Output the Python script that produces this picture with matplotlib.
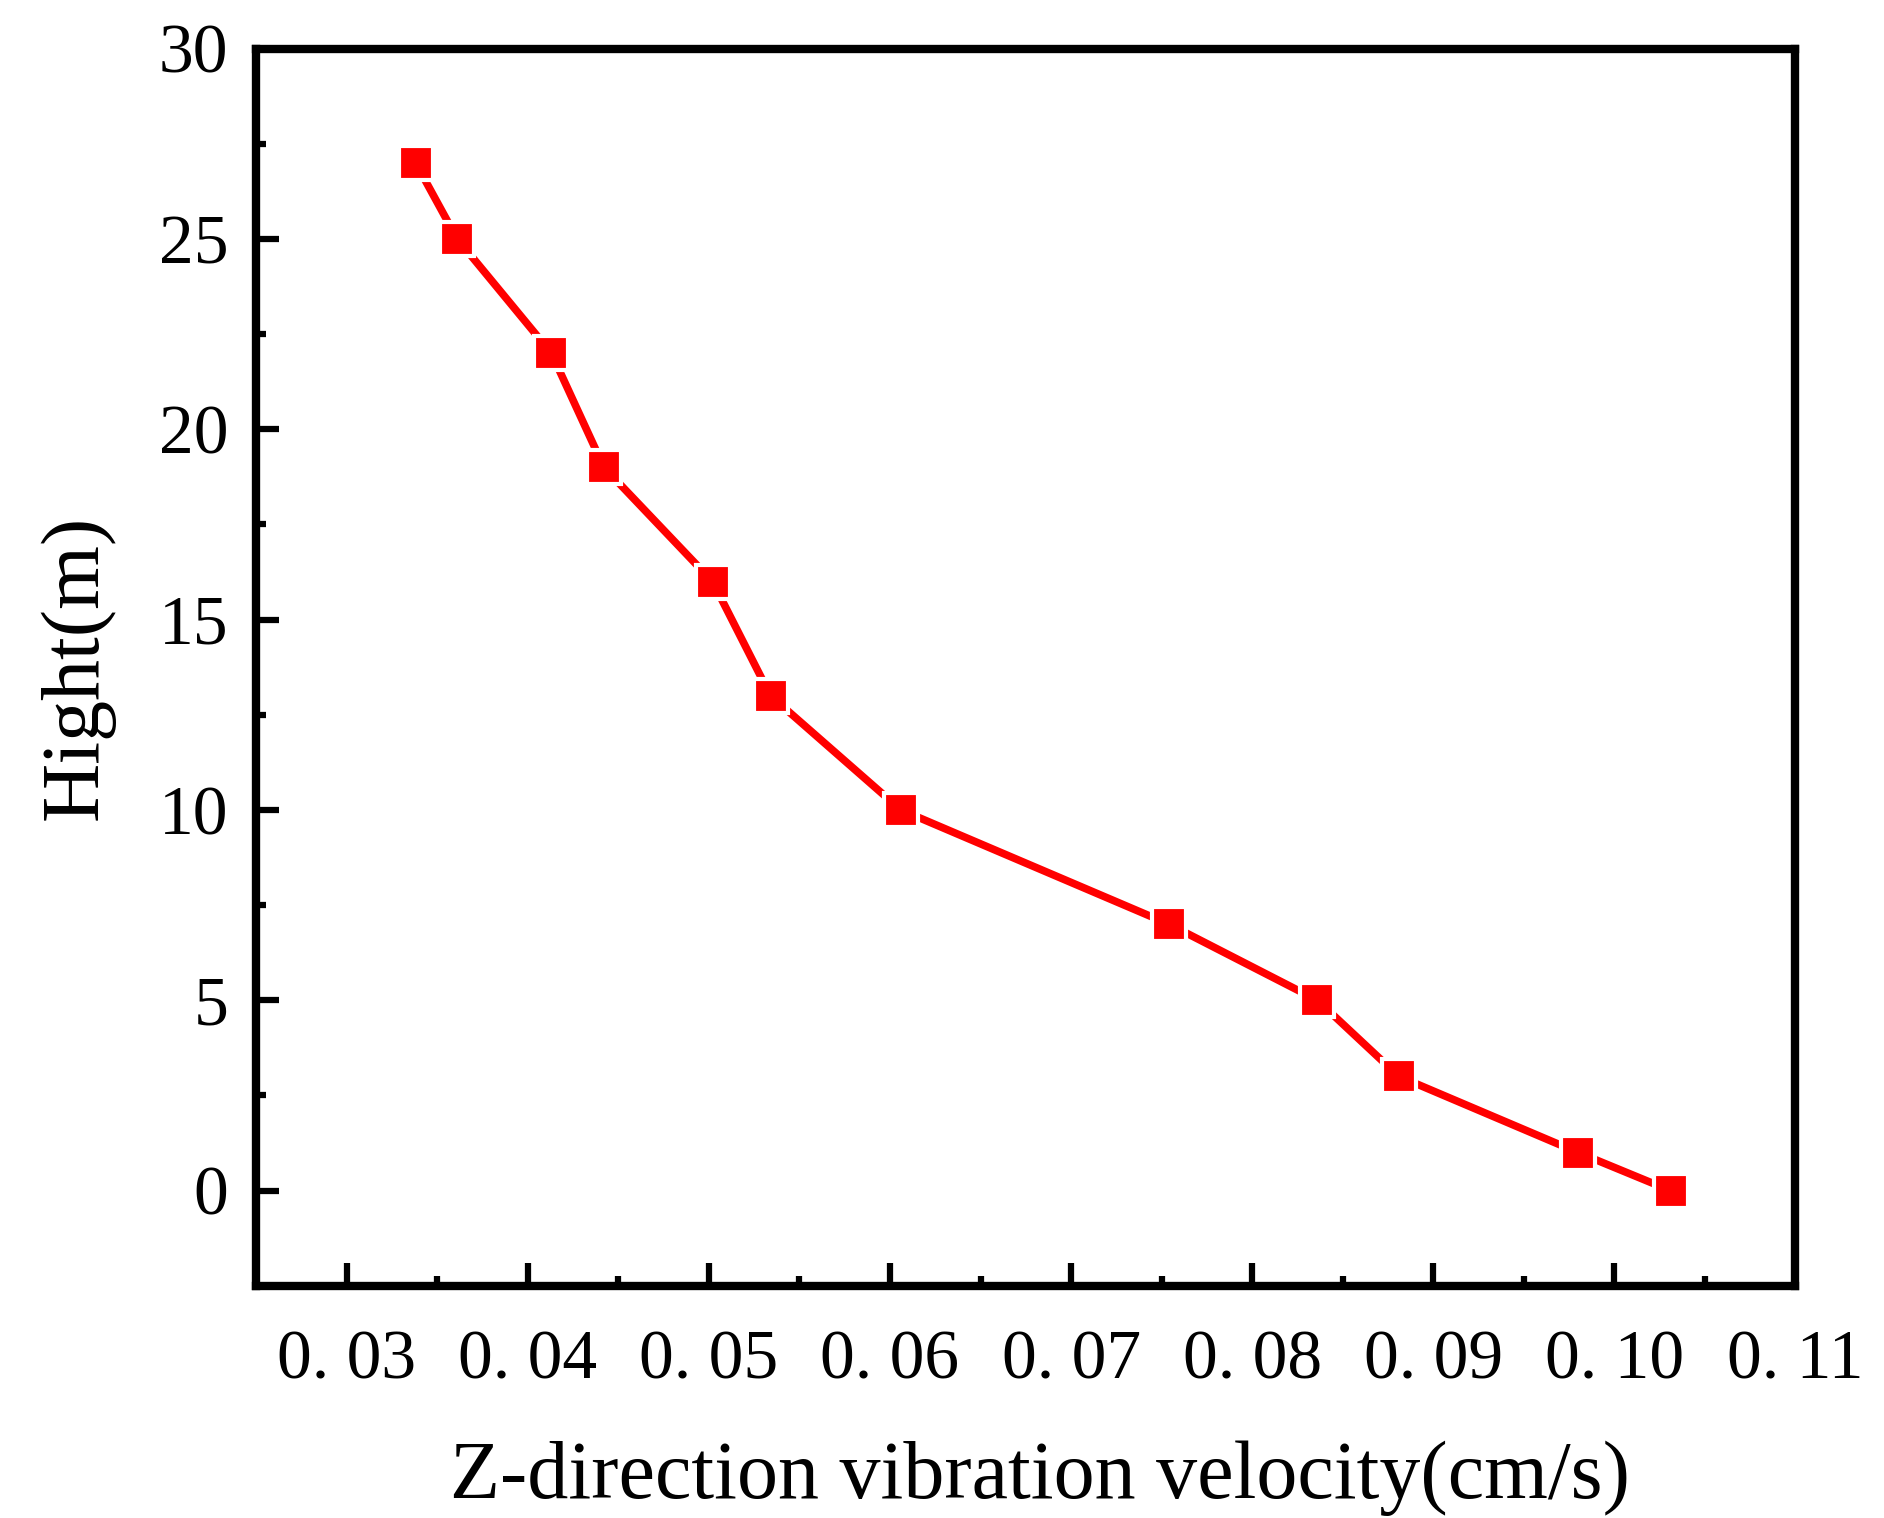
import matplotlib
matplotlib.use("Agg")
import matplotlib.pyplot as plt
from matplotlib.ticker import MultipleLocator, FixedLocator

velocity = [0.0338, 0.0361, 0.0413, 0.0442, 0.0502, 0.0534, 0.0606,
            0.0754, 0.0836, 0.0881, 0.0980, 0.1031]
height = [27, 25, 22, 19, 16, 13, 10, 7, 5, 3, 1, 0]

xticks = [0.03, 0.04, 0.05, 0.06, 0.07, 0.08, 0.09, 0.10, 0.11]
xticklabels = ["0. 03", "0. 04", "0. 05", "0. 06", "0. 07", "0. 08", "0. 09", "0. 10", "0. 11"]
yticks = [0, 5, 10, 15, 20, 25, 30]

plt.rcParams['font.family'] = ['Liberation Serif', 'DejaVu Serif']

fig = plt.figure(figsize=(18.84, 15.18), dpi=100)
ax = fig.add_axes([0.136, 0.153, 0.817, 0.815])

ax.plot(velocity, height, color='#ff0000', lw=5.5, marker='s', ms=25,
        mfc='#ff0000', mec='white', mew=3, solid_joinstyle='miter')

ax.set_xlim(0.025, 0.11)
ax.set_ylim(-2.5, 30)
ax.xaxis.set_major_locator(FixedLocator(xticks))
ax.set_xticklabels(xticklabels)
ax.xaxis.set_minor_locator(MultipleLocator(0.005))
ax.yaxis.set_major_locator(FixedLocator(yticks))
ax.yaxis.set_minor_locator(MultipleLocator(2.5))

for s in ax.spines.values():
    s.set_linewidth(6)

ax.tick_params(which='both', direction='in', top=False, right=False, width=4.5, labelsize=50)
ax.tick_params(which='major', length=16.5)
ax.tick_params(which='minor', length=7)
ax.tick_params(axis='x', pad=32)
ax.tick_params(axis='y', pad=20)

ax.set_xlabel('Z-direction vibration velocity(cm/s)', fontsize=59, labelpad=20)
ax.xaxis.set_label_coords(0.509, -0.125)
ax.set_ylabel('Hight(m)', fontsize=59, labelpad=32)

fig.savefig('out.png', dpi=100)
